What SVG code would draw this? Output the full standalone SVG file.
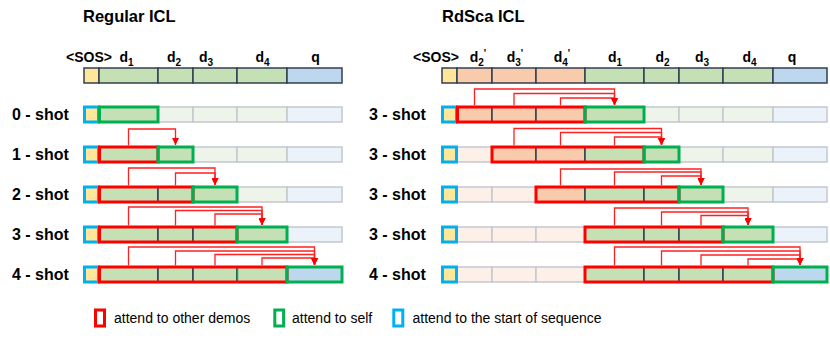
<svg xmlns="http://www.w3.org/2000/svg" width="830" height="339" viewBox="0 0 830 339">
<style>
text{font-family:"Liberation Sans",Arial,sans-serif;fill:#000}
.title{font-size:16.5px;font-weight:bold}
.hdr{font-size:14px;font-weight:bold;text-anchor:middle}
.sub{font-size:10px}
.lbl{font-size:16px;font-weight:bold}
.leg{font-size:14px}
.c{stroke-width:1.5}
.dk{stroke:#333f50}
.lt{stroke:#c3c7cf}
.sos{fill:#ffe699}
.g{fill:#c5e0b4}
.o{fill:#f8cbad}
.b{fill:#bdd7ee}
.lg{fill:#eef4ea}
.lo{fill:#fcf0e8}
.lb{fill:#ebf2fa}
.red{fill:none;stroke:#ff0000;stroke-width:3}
.grn{fill:none;stroke:#00b050;stroke-width:3}
.blu{fill:none;stroke:#00b0f0;stroke-width:3}
.ar{fill:none;stroke:#ff2020;stroke-width:1.3;marker-end:url(#ah)}
</style>
<defs>
<marker id="ah" viewBox="0 0 7 7" refX="7" refY="3.5" markerWidth="7" markerHeight="7" markerUnits="userSpaceOnUse" orient="auto">
<path d="M0,0 L7,3.5 L0,7 z" fill="#ff0000"/>
</marker>
</defs>

<g id="titles">
<text class="title" x="83" y="22">Regular ICL</text>
<text class="title" x="442" y="22">RdSca ICL</text>
</g>

<g id="left-header">
<text class="hdr" x="89" y="62">&lt;SOS&gt;</text>
<text class="hdr" x="126.5" y="62">d<tspan class="sub" dy="4">1</tspan></text>
<text class="hdr" x="174" y="62">d<tspan class="sub" dy="4">2</tspan></text>
<text class="hdr" x="206" y="62">d<tspan class="sub" dy="4">3</tspan></text>
<text class="hdr" x="262.5" y="62">d<tspan class="sub" dy="4">4</tspan></text>
<text class="hdr" x="315.5" y="62">q</text>
</g>

<g id="left-sequence">
<rect class="c dk sos" x="84" y="68" width="15" height="15"/>
<rect class="c dk g" x="99" y="68" width="59" height="15"/>
<rect class="c dk g" x="158" y="68" width="35" height="15"/>
<rect class="c dk g" x="193" y="68" width="44" height="15"/>
<rect class="c dk g" x="237" y="68" width="50" height="15"/>
<rect class="c dk b" x="287" y="68" width="55" height="15"/>
</g>

<g id="left-row-0">
<text class="lbl" x="12" y="120">0 - shot</text>
<rect class="c lt sos" x="84" y="107" width="15" height="15"/>
<rect class="c dk g" x="99" y="107" width="59" height="15"/>
<rect class="c lt lg" x="158" y="107" width="35" height="15"/>
<rect class="c lt lg" x="193" y="107" width="44" height="15"/>
<rect class="c lt lg" x="237" y="107" width="50" height="15"/>
<rect class="c lt lb" x="287" y="107" width="55" height="15"/>
<rect class="blu" x="84.5" y="107" width="14" height="15"/>
<rect class="grn" x="99.5" y="107" width="58.5" height="15"/>
</g>

<g id="left-row-1">
<text class="lbl" x="12" y="160">1 - shot</text>
<rect class="c lt sos" x="84" y="147" width="15" height="15"/>
<rect class="c dk g" x="99" y="147" width="59" height="15"/>
<rect class="c dk g" x="158" y="147" width="35" height="15"/>
<rect class="c lt lg" x="193" y="147" width="44" height="15"/>
<rect class="c lt lg" x="237" y="147" width="50" height="15"/>
<rect class="c lt lb" x="287" y="147" width="55" height="15"/>
<rect class="blu" x="84.5" y="147" width="14" height="15"/>
<rect class="red" x="99.5" y="147" width="58.5" height="15"/>
<rect class="grn" x="158" y="147" width="35" height="15"/>
</g>

<g id="left-row-2">
<text class="lbl" x="12" y="200">2 - shot</text>
<rect class="c lt sos" x="84" y="187" width="15" height="15"/>
<rect class="c dk g" x="99" y="187" width="59" height="15"/>
<rect class="c dk g" x="158" y="187" width="35" height="15"/>
<rect class="c dk g" x="193" y="187" width="44" height="15"/>
<rect class="c lt lg" x="237" y="187" width="50" height="15"/>
<rect class="c lt lb" x="287" y="187" width="55" height="15"/>
<rect class="blu" x="84.5" y="187" width="14" height="15"/>
<rect class="red" x="99.5" y="187" width="93.5" height="15"/>
<rect class="grn" x="193" y="187" width="44" height="15"/>
</g>

<g id="left-row-3">
<text class="lbl" x="12" y="240">3 - shot</text>
<rect class="c lt sos" x="84" y="227" width="15" height="15"/>
<rect class="c dk g" x="99" y="227" width="59" height="15"/>
<rect class="c dk g" x="158" y="227" width="35" height="15"/>
<rect class="c dk g" x="193" y="227" width="44" height="15"/>
<rect class="c dk g" x="237" y="227" width="50" height="15"/>
<rect class="c lt lb" x="287" y="227" width="55" height="15"/>
<rect class="blu" x="84.5" y="227" width="14" height="15"/>
<rect class="red" x="99.5" y="227" width="137.5" height="15"/>
<rect class="grn" x="237" y="227" width="50" height="15"/>
</g>

<g id="left-row-4">
<text class="lbl" x="12" y="280">4 - shot</text>
<rect class="c lt sos" x="84" y="267" width="15" height="15"/>
<rect class="c dk g" x="99" y="267" width="59" height="15"/>
<rect class="c dk g" x="158" y="267" width="35" height="15"/>
<rect class="c dk g" x="193" y="267" width="44" height="15"/>
<rect class="c dk g" x="237" y="267" width="50" height="15"/>
<rect class="c dk b" x="287" y="267" width="55" height="15"/>
<line x1="237.5" y1="268" x2="237.5" y2="281" stroke="#00b050" stroke-width="1.5"/>
<rect class="blu" x="84.5" y="267" width="14" height="15"/>
<rect class="red" x="99.5" y="267" width="187.5" height="15"/>
<rect class="grn" x="287" y="267" width="55" height="15"/>
</g>

<g id="right-header">
<text class="hdr" x="436" y="62">&lt;SOS&gt;</text>
<text class="hdr" x="478" y="62">d<tspan class="sub" dy="4">2</tspan><tspan class="sub" dy="-9">'</tspan></text>
<text class="hdr" x="515" y="62">d<tspan class="sub" dy="4">3</tspan><tspan class="sub" dy="-9">'</tspan></text>
<text class="hdr" x="562" y="62">d<tspan class="sub" dy="4">4</tspan><tspan class="sub" dy="-9">'</tspan></text>
<text class="hdr" x="615" y="62">d<tspan class="sub" dy="4">1</tspan></text>
<text class="hdr" x="662.5" y="62">d<tspan class="sub" dy="4">2</tspan></text>
<text class="hdr" x="702" y="62">d<tspan class="sub" dy="4">3</tspan></text>
<text class="hdr" x="749.5" y="62">d<tspan class="sub" dy="4">4</tspan></text>
<text class="hdr" x="792" y="62">q</text>
</g>

<g id="right-sequence">
<rect class="c dk sos" x="442" y="68" width="15" height="15"/>
<rect class="c dk o" x="457" y="68" width="35" height="15"/>
<rect class="c dk o" x="492" y="68" width="44" height="15"/>
<rect class="c dk o" x="536" y="68" width="49" height="15"/>
<rect class="c dk g" x="585" y="68" width="59" height="15"/>
<rect class="c dk g" x="644" y="68" width="35" height="15"/>
<rect class="c dk g" x="679" y="68" width="44" height="15"/>
<rect class="c dk g" x="723" y="68" width="50" height="15"/>
<rect class="c dk b" x="773" y="68" width="54" height="15"/>
</g>

<g id="right-row-0">
<text class="lbl" x="369" y="120">3 - shot</text>
<rect class="c lt sos" x="442" y="107" width="15" height="15"/>
<rect class="c dk o" x="457" y="107" width="35" height="15"/>
<rect class="c dk o" x="492" y="107" width="44" height="15"/>
<rect class="c dk o" x="536" y="107" width="49" height="15"/>
<rect class="c dk g" x="585" y="107" width="59" height="15"/>
<rect class="c lt lg" x="644" y="107" width="35" height="15"/>
<rect class="c lt lg" x="679" y="107" width="44" height="15"/>
<rect class="c lt lg" x="723" y="107" width="50" height="15"/>
<rect class="c lt lb" x="773" y="107" width="54" height="15"/>
<rect class="blu" x="442.5" y="107" width="14" height="15"/>
<rect class="red" x="457.5" y="107" width="127.5" height="15"/>
<rect class="grn" x="585" y="107" width="59" height="15"/>
</g>

<g id="right-row-1">
<text class="lbl" x="369" y="160">3 - shot</text>
<rect class="c lt sos" x="442" y="147" width="15" height="15"/>
<rect class="c lt lo" x="457" y="147" width="35" height="15"/>
<rect class="c dk o" x="492" y="147" width="44" height="15"/>
<rect class="c dk o" x="536" y="147" width="49" height="15"/>
<rect class="c dk g" x="585" y="147" width="59" height="15"/>
<rect class="c dk g" x="644" y="147" width="35" height="15"/>
<rect class="c lt lg" x="679" y="147" width="44" height="15"/>
<rect class="c lt lg" x="723" y="147" width="50" height="15"/>
<rect class="c lt lb" x="773" y="147" width="54" height="15"/>
<rect class="blu" x="442.5" y="147" width="14" height="15"/>
<rect class="red" x="492" y="147" width="152" height="15"/>
<rect class="grn" x="644" y="147" width="35" height="15"/>
</g>

<g id="right-row-2">
<text class="lbl" x="369" y="200">3 - shot</text>
<rect class="c lt sos" x="442" y="187" width="15" height="15"/>
<rect class="c lt lo" x="457" y="187" width="35" height="15"/>
<rect class="c lt lo" x="492" y="187" width="44" height="15"/>
<rect class="c dk o" x="536" y="187" width="49" height="15"/>
<rect class="c dk g" x="585" y="187" width="59" height="15"/>
<rect class="c dk g" x="644" y="187" width="35" height="15"/>
<rect class="c dk g" x="679" y="187" width="44" height="15"/>
<rect class="c lt lg" x="723" y="187" width="50" height="15"/>
<rect class="c lt lb" x="773" y="187" width="54" height="15"/>
<rect class="blu" x="442.5" y="187" width="14" height="15"/>
<rect class="red" x="536" y="187" width="143" height="15"/>
<rect class="grn" x="679" y="187" width="44" height="15"/>
</g>

<g id="right-row-3">
<text class="lbl" x="369" y="240">3 - shot</text>
<rect class="c lt sos" x="442" y="227" width="15" height="15"/>
<rect class="c lt lo" x="457" y="227" width="35" height="15"/>
<rect class="c lt lo" x="492" y="227" width="44" height="15"/>
<rect class="c lt lo" x="536" y="227" width="49" height="15"/>
<rect class="c dk g" x="585" y="227" width="59" height="15"/>
<rect class="c dk g" x="644" y="227" width="35" height="15"/>
<rect class="c dk g" x="679" y="227" width="44" height="15"/>
<rect class="c dk g" x="723" y="227" width="50" height="15"/>
<rect class="c lt lb" x="773" y="227" width="54" height="15"/>
<rect class="blu" x="442.5" y="227" width="14" height="15"/>
<rect class="red" x="585" y="227" width="138" height="15"/>
<rect class="grn" x="723" y="227" width="50" height="15"/>
</g>

<g id="right-row-4">
<text class="lbl" x="369" y="280">4 - shot</text>
<rect class="c lt sos" x="442" y="267" width="15" height="15"/>
<rect class="c lt lo" x="457" y="267" width="35" height="15"/>
<rect class="c lt lo" x="492" y="267" width="44" height="15"/>
<rect class="c lt lo" x="536" y="267" width="49" height="15"/>
<rect class="c dk g" x="585" y="267" width="59" height="15"/>
<rect class="c dk g" x="644" y="267" width="35" height="15"/>
<rect class="c dk g" x="679" y="267" width="44" height="15"/>
<rect class="c dk g" x="723" y="267" width="50" height="15"/>
<rect class="c dk b" x="773" y="267" width="54" height="15"/>
<rect class="blu" x="442.5" y="267" width="14" height="15"/>
<rect class="red" x="585" y="267" width="188" height="15"/>
<rect class="grn" x="773" y="267" width="54" height="15"/>
</g>

<g id="connectors">
<path class="ar" d="M128.5,145.5 V129 H175.5 V145"/>

<path class="ar" d="M128.5,185.5 V168 H215 V185"/>
<path class="ar" d="M175.5,185.5 V173 H215 V185"/>

<path class="ar" d="M128.5,225.5 V207 H262 V225"/>
<path class="ar" d="M175.5,225.5 V210.5 H262 V225"/>
<path class="ar" d="M215,225.5 V214 H262 V225"/>

<path class="ar" d="M128.5,265.5 V247 H314.5 V265"/>
<path class="ar" d="M175.5,265.5 V251 H314.5 V265"/>
<path class="ar" d="M215,265.5 V254.5 H314.5 V265"/>
<path class="ar" d="M262,265.5 V258 H314.5 V265"/>

<path class="ar" d="M474.5,105.5 V89 H614.5 V105"/>
<path class="ar" d="M514,105.5 V93.5 H614.5 V105"/>
<path class="ar" d="M560.5,105.5 V98 H614.5 V105"/>

<path class="ar" d="M514,145.5 V128.5 H661.5 V145"/>
<path class="ar" d="M560.5,145.5 V132.5 H661.5 V145"/>
<path class="ar" d="M614.5,145.5 V137 H661.5 V145"/>

<path class="ar" d="M560.5,185.5 V169 H701 V185"/>
<path class="ar" d="M614.5,185.5 V172 H701 V185"/>
<path class="ar" d="M661.5,185.5 V176 H701 V185"/>

<path class="ar" d="M614.5,225.5 V208 H748 V225"/>
<path class="ar" d="M661.5,225.5 V212 H748 V225"/>
<path class="ar" d="M701,225.5 V215.5 H748 V225"/>

<path class="ar" d="M614.5,265.5 V247 H800 V265"/>
<path class="ar" d="M661.5,265.5 V251 H800 V265"/>
<path class="ar" d="M701,265.5 V255 H800 V265"/>
<path class="ar" d="M748,265.5 V259 H800 V265"/>
</g>

<g id="legend">
<rect class="red" x="95.5" y="310" width="9" height="16"/>
<text class="leg" x="114" y="323">attend to other demos</text>
<rect class="grn" x="274.8" y="310" width="8.8" height="16"/>
<text class="leg" x="292" y="323">attend to self</text>
<rect class="blu" x="393.8" y="310" width="9" height="16"/>
<text class="leg" x="412.5" y="323">attend to the start of sequence</text>
</g>
</svg>
